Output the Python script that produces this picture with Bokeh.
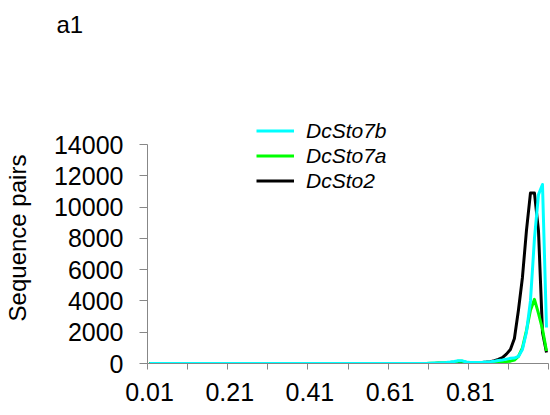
from bokeh.plotting import figure
from bokeh.models import Range1d, FixedTicker, Legend, LegendItem, Title, ColumnDataSource
from bokeh.embed import file_html
from bokeh.resources import INLINE

# ---- data -------------------------------------------------------------
# categories: identity thresholds 0.01 ... 1.00
categories = ["%.2f" % ((k + 1) / 100) for k in range(100)]
x_tick_labels = ["0.01", "0.21", "0.41", "0.61", "0.81"]
y_ticks = [0, 2000, 4000, 6000, 8000, 10000, 12000, 14000]

dcsto7b = [
    0, 0, 0, 0, 0, 0, 0, 0, 0, 0,
    0, 0, 0, 0, 0, 0, 0, 0, 0, 0,
    0, 0, 0, 0, 0, 0, 0, 0, 0, 0,
    0, 0, 0, 0, 0, 0, 0, 0, 0, 0,
    0, 0, 0, 0, 0, 0, 0, 0, 0, 0,
    0, 0, 0, 0, 0, 0, 0, 0, 0, 0,
    0, 0, 0, 0, 0, 0, 0, 0, 0, 0,
    20, 30, 40, 50, 60, 90, 130, 180, 170, 100,
    60, 60, 70, 80, 100, 120, 150, 190, 230, 280,
    330, 350, 450, 900, 2000, 4000, 8000, 10800, 11450, 2300,
]
dcsto7a = [
    0, 0, 0, 0, 0, 0, 0, 0, 0, 0,
    0, 0, 0, 0, 0, 0, 0, 0, 0, 0,
    0, 0, 0, 0, 0, 0, 0, 0, 0, 0,
    0, 0, 0, 0, 0, 0, 0, 0, 0, 0,
    0, 0, 0, 0, 0, 0, 0, 0, 0, 0,
    0, 0, 0, 0, 0, 0, 0, 0, 0, 0,
    0, 0, 0, 0, 0, 0, 0, 0, 0, 0,
    20, 20, 30, 30, 40, 60, 100, 150, 140, 80,
    40, 30, 30, 40, 50, 60, 70, 80, 100, 120,
    150, 220, 450, 1000, 2100, 3400, 4100, 3200, 2200, 800,
]
dcsto2 = [
    0, 0, 0, 0, 0, 0, 0, 0, 0, 0,
    0, 0, 0, 0, 0, 0, 0, 0, 0, 0,
    0, 0, 0, 0, 0, 0, 0, 0, 0, 0,
    0, 0, 0, 0, 0, 0, 0, 0, 0, 0,
    0, 0, 0, 0, 0, 0, 0, 0, 0, 0,
    0, 0, 0, 0, 0, 0, 0, 0, 0, 0,
    0, 0, 0, 0, 0, 0, 0, 0, 0, 0,
    0, 0, 10, 10, 20, 20, 30, 60, 60, 40,
    30, 40, 50, 70, 90, 120, 180, 260, 380, 600,
    900, 1600, 3400, 5500, 8500, 10900, 10900, 8500, 2000, 700,
]

series_names = ["DcSto7b", "DcSto7a", "DcSto2"]
series_colors = ["#00FFFF", "#00FF00", "#000000"]
y_axis_title = "Sequence pairs"
panel_tag = "a1"

# ---- figure -------------------------------------------------------------
FONT = "Liberation Sans"
AXIS_COLOR = "#878787"

idx = list(range(len(categories)))
source = ColumnDataSource(dict(x=idx, b=dcsto7b, a=dcsto7a, s2=dcsto2))

# frame extends a little above the 14000 line so the legend fits inside it;
# the y axis itself is bounded to 0..14000
p = figure(
    width=550, height=413,
    min_border_left=146, min_border_right=2, min_border_top=112, min_border_bottom=50,
    x_range=Range1d(-0.5, len(categories) - 0.5),
    y_range=Range1d(0, 16050),
    output_backend="svg", toolbar_location=None,
)
p.outline_line_color = None
p.xgrid.visible = False
p.ygrid.visible = False
p.background_fill_color = "white"
p.border_fill_color = "white"

# draw order: black, green, cyan (cyan on top)
r_s2 = p.line("x", "s2", source=source, color=series_colors[2], line_width=3, line_join="round")
r_a = p.line("x", "a", source=source, color=series_colors[1], line_width=3, line_join="round")
r_b = p.line("x", "b", source=source, color=series_colors[0], line_width=3, line_join="round")

# x axis: labels every 20 categories, tick marks between groups of 10
xa = p.xaxis[0]
label_pos = [categories.index(t) for t in x_tick_labels]
xa.ticker = FixedTicker(ticks=label_pos,
                        minor_ticks=[k * 10 - 0.5 for k in range(len(categories) // 10 + 1)])
xa.major_label_overrides = {pos: lab for pos, lab in zip(label_pos, x_tick_labels)}
xa.major_tick_line_color = None
xa.minor_tick_line_color = AXIS_COLOR
xa.minor_tick_in = 0
xa.minor_tick_out = 6
xa.axis_line_color = AXIS_COLOR
xa.major_label_text_font = FONT
xa.major_label_text_font_size = "25px"
xa.major_label_text_color = "black"
xa.major_label_standoff = 13

ya = p.yaxis[0]
ya.ticker = FixedTicker(ticks=y_ticks, minor_ticks=[])
ya.bounds = (y_ticks[0], y_ticks[-1])
ya.major_tick_line_color = AXIS_COLOR
ya.major_tick_in = 0
ya.major_tick_out = 8
ya.axis_line_color = AXIS_COLOR
ya.major_label_text_font = FONT
ya.major_label_text_font_size = "25px"
ya.major_label_text_color = "black"
ya.major_label_standoff = 16
ya.axis_label = y_axis_title
ya.axis_label_text_font = FONT
ya.axis_label_text_font_size = "24px"
ya.axis_label_text_font_style = "normal"
ya.axis_label_text_color = "black"
ya.axis_label_standoff = 20

# legend
legend = Legend(
    items=[LegendItem(label=series_names[0], renderers=[r_b]),
           LegendItem(label=series_names[1], renderers=[r_a]),
           LegendItem(label=series_names[2], renderers=[r_s2])],
    location=(109, 170),
    orientation="vertical",
    glyph_width=38, glyph_height=25, label_height=25, spacing=0,
    label_standoff=12, padding=0, margin=0,
    border_line_color=None, background_fill_alpha=0,
    label_text_font=FONT, label_text_font_style="italic",
    label_text_font_size="21px", label_text_color="black",
)
p.add_layout(legend, "center")

# panel tag "a1" at the top-left; a blank spacer title keeps it away from the frame
p.add_layout(Title(text=" ", text_font_size="1px", standoff=72), "above")
p.add_layout(Title(text=panel_tag, align="left", offset=-91, vertical_align="bottom", standoff=0,
                   text_font=FONT, text_font_size="24px", text_font_style="normal",
                   text_color="black"), "above")

open("out.html", "w").write(file_html(p, INLINE))
